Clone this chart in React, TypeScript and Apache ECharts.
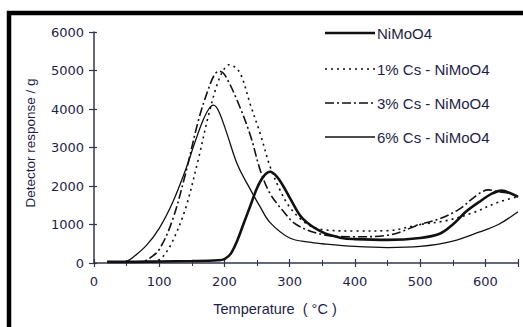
import React, { useEffect, useRef } from "react";
import * as echarts from "echarts";

const seriesNames = ["NiMoO4", "1% Cs - NiMoO4", "3% Cs - NiMoO4", "6% Cs - NiMoO4"];

const tNi = [20, 50, 100, 150, 190, 200, 210, 220, 230, 240, 250, 260, 270, 280, 290, 300, 320, 350, 380, 400, 450, 500, 530, 550, 570, 590, 610, 625, 640, 650];
const vNi = [30, 30, 40, 50, 70, 100, 250, 600, 1050, 1500, 1950, 2250, 2370, 2250, 2000, 1700, 1150, 800, 650, 620, 600, 650, 760, 1000, 1330, 1580, 1800, 1880, 1800, 1720];

const tCs1 = [80, 95, 105, 120, 140, 160, 175, 190, 200, 207, 215, 225, 240, 255, 270, 285, 300, 325, 350, 400, 450, 500, 540, 580, 620, 650];
const vCs1 = [20, 50, 150, 550, 1400, 2700, 3800, 4700, 5050, 5150, 5100, 4900, 4100, 3350, 2500, 1900, 1450, 1030, 870, 830, 840, 1000, 1100, 1300, 1580, 1720];

const tCs3 = [60, 75, 85, 100, 120, 140, 160, 175, 185, 192, 200, 220, 240, 255, 270, 290, 310, 350, 400, 450, 500, 530, 560, 590, 605, 620, 640, 650];
const vCs3 = [20, 40, 120, 350, 1100, 2300, 3700, 4500, 4900, 4980, 4900, 4200, 3300, 2400, 1800, 1350, 1000, 740, 680, 720, 1000, 1150, 1400, 1800, 1900, 1850, 1800, 1720];

const tCs6 = [20, 40, 50, 60, 80, 100, 120, 140, 155, 167, 176, 183, 191, 203, 220, 240, 255, 270, 300, 330, 350, 400, 450, 500, 550, 590, 620, 650];
const vCs6 = [20, 20, 40, 150, 450, 900, 1550, 2400, 3150, 3700, 4000, 4100, 3950, 3400, 2550, 1900, 1450, 1050, 650, 540, 500, 430, 400, 430, 570, 800, 1000, 1330];

const pairs = (t: number[], v: number[]) => t.map((x, i) => [x, v[i]]);

const axisColor = "#34344e";
const labelColor = "#1e1e48";

export default function App() {
  const ref = useRef<HTMLDivElement>(null);
  useEffect(() => {
    if (!ref.current) return;
    const chart = echarts.init(ref.current, null, { renderer: "svg" });
    const mkX = (inside: boolean) => ({
      type: "value",
      min: 0,
      max: 650,
      interval: 100,
      position: "bottom",
      axisLine: { show: !inside, onZero: false, lineStyle: { color: axisColor, width: 1.5 } },
      axisTick: { show: true, inside, length: 4, lineStyle: { color: axisColor, width: 1.2 } },
      minorTick: { show: true, splitNumber: 2, length: 3, lineStyle: { color: axisColor, width: 1 } },
      axisLabel: inside
        ? { show: false }
        : {
            show: true,
            showMaxLabel: false,
            color: labelColor,
            fontFamily: "DejaVu Sans",
            fontSize: 13,
            margin: 12,
            formatter: (v: number) => (v > 600 ? "" : String(v)),
          },
      splitLine: { show: false },
    });
    const mkY = (inside: boolean) => ({
      type: "value",
      min: 0,
      max: 6000,
      interval: 1000,
      position: "left",
      axisLine: { show: !inside, onZero: false, lineStyle: { color: axisColor, width: 1.5 } },
      axisTick: { show: true, inside, length: inside ? 3 : 5, lineStyle: { color: axisColor, width: 1.2 } },
      axisLabel: inside
        ? { show: false }
        : {
            show: true,
            color: labelColor,
            fontFamily: "DejaVu Sans",
            fontSize: 13,
            margin: 10,
            formatter: (v: number) => String(v),
          },
      splitLine: { show: false },
    });
    const lineStyles: any[] = [
      { color: "#111", width: 2.6, type: "solid" },
      { color: "#111", width: 1.6, type: [2, 4] },
      { color: "#111", width: 1.6, type: [9, 3, 2, 3] },
      { color: "#111", width: 1.3, type: "solid" },
    ];
    const legendDash: any[] = [null, [2, 4], [9, 3, 2, 3], null];
    const legendY = [33, 69, 103, 137];
    const datas = [pairs(tNi, vNi), pairs(tCs1, vCs1), pairs(tCs3, vCs3), pairs(tCs6, vCs6)];
    const legendGraphics: any[] = [];
    seriesNames.forEach((name, i) => {
      legendGraphics.push({
        type: "line",
        shape: { x1: 325, y1: legendY[i], x2: 375, y2: legendY[i] },
        style: {
          stroke: "#111",
          lineWidth: lineStyles[i].width,
          lineDash: legendDash[i] || undefined,
        },
        silent: true,
      });
      legendGraphics.push({
        type: "text",
        x: 377,
        y: legendY[i],
        style: {
          text: name,
          fill: labelColor,
          font: "15px 'Liberation Sans'",
          textAlign: "left",
          textVerticalAlign: "middle",
        },
        silent: true,
      });
    });
    chart.setOption({
      animation: false,
      backgroundColor: "#ffffff",
      grid: { left: 94, right: 5, top: 32, bottom: 64, containLabel: false },
      xAxis: [mkX(false), mkX(true)],
      yAxis: [mkY(false), mkY(true)],
      series: seriesNames.map((name, i) => ({
        name,
        type: "line",
        xAxisIndex: 0,
        yAxisIndex: 0,
        data: datas[i],
        smooth: 0.35,
        symbol: "none",
        lineStyle: lineStyles[i],
        itemStyle: { color: "#111" },
      })),
      graphic: [
        ...legendGraphics,
        {
          type: "text",
          x: 30,
          y: 143,
          rotation: Math.PI / 2,
          style: {
            text: "Detector response / g",
            fill: labelColor,
            font: "13.5px 'Liberation Sans'",
            textAlign: "center",
            textVerticalAlign: "middle",
          },
        },
        {
          type: "text",
          x: 275,
          y: 309,
          style: {
            text: "Temperature  ( °C )",
            fill: labelColor,
            font: "14.5px 'Liberation Sans'",
            textAlign: "center",
            textVerticalAlign: "middle",
          },
        },
        {
          type: "rect",
          shape: { x: 9, y: 13, width: 700, height: 500 },
          style: { fill: "none", stroke: "#000", lineWidth: 4.5 },
          silent: true,
        },
      ],
    });
    return () => chart.dispose();
  }, []);
  return (
    <div
      ref={ref}
      style={{ position: "fixed", left: 0, top: 0, width: 523, height: 327, background: "#fff" }}
    />
  );
}
